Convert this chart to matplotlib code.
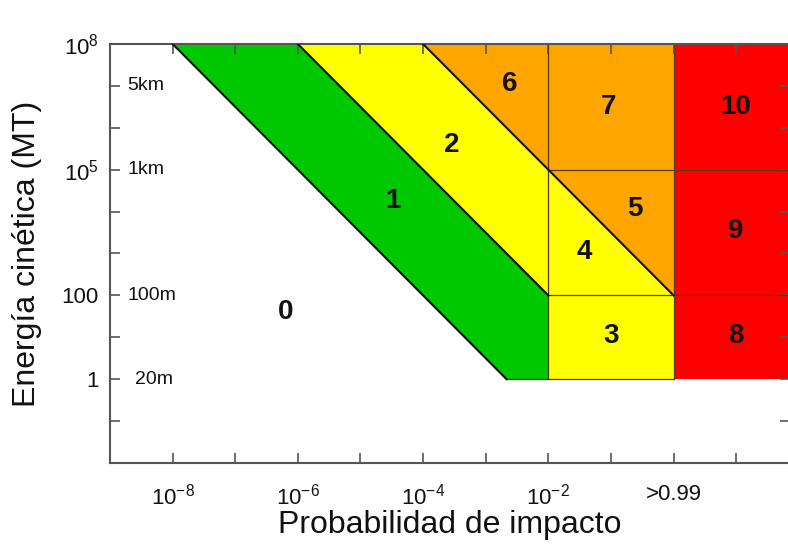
import numpy as np
import matplotlib
matplotlib.use('Agg')
import matplotlib.pyplot as plt

plt.rcParams['font.family'] = ['Liberation Sans', 'DejaVu Sans']
plt.rcParams['mathtext.fontset'] = 'custom'
plt.rcParams['mathtext.rm'] = 'Liberation Sans'
plt.rcParams['mathtext.it'] = 'Liberation Sans'

# axis range (log10 units)
x_lim = (-9.0, 1.86)
y_lim = (-2.0, 8.0)

# tick marks and labels
x_ticks = [-8, -6, -4, -2, 0]
x_labels = [r'$10^{-8}$', r'$10^{-6}$', r'$10^{-4}$', r'$10^{-2}$', '>0.99']
y_ticks = [8, 5, 2, 0]
y_labels = [r'$10^{8}$', r'$10^{5}$', '100', '1']
size_y = [7, 5, 2, 0]
size_labels = ['5km', '1km', '100m', '20m']

# region polygons (log10 probability, log10 energy)
green_x = [-8, -6, -2, -2, -2.667]
green_y = [8, 8, 2, 0, 0]
yel2_x = [-6, -4, -2, -2]
yel2_y = [8, 8, 5, 2]
org6_x = [-4, -2, -2]
org6_y = [8, 8, 5]
org7_x = [-2, 0, 0, -2]
org7_y = [8, 8, 5, 5]
org5_x = [-2, 0, 0]
org5_y = [5, 5, 2]
yel4_x = [-2, 0, -2]
yel4_y = [5, 2, 2]
yel3_x = [-2, 0, 0, -2]
yel3_y = [2, 2, 0, 0]
red_x = [0, 1.86, 1.86, 0]
red_y = [8, 8, 0, 0]

# scale numbers
num_labels = ['0', '1', '2', '3', '4', '5', '6', '7', '8', '9', '10']
num_x = [-6.2, -4.48, -3.55, -1.0, -1.42, -0.62, -2.61, -1.04, 1.0, 1.0, 1.0]
num_y = [1.6, 4.25, 5.6, 1.03, 3.03, 4.06, 7.04, 6.49, 1.03, 3.53, 6.49]

GREEN = '#00c800'
YELLOW = '#ffff00'
ORANGE = '#ffa500'
RED = '#ff0000'

fig = plt.figure(figsize=(7.88, 5.48), dpi=100)
ax = fig.add_axes([110 / 788, 1 - 463 / 548, 680 / 788, 419 / 548])
ax.set_xscale('log')
ax.set_yscale('log')

def pw(v):
    return 10.0 ** np.array(v, dtype=float)

for xs, ys, c in [(green_x, green_y, GREEN), (yel2_x, yel2_y, YELLOW),
                  (org6_x, org6_y, ORANGE), (org7_x, org7_y, ORANGE),
                  (org5_x, org5_y, ORANGE), (yel4_x, yel4_y, YELLOW),
                  (yel3_x, yel3_y, YELLOW), (red_x, red_y, RED)]:
    ax.fill(pw(xs), pw(ys), color=c, lw=0, zorder=1)

# thin cell borders
cell = dict(color='#5a3a00', lw=0.9, zorder=2)
ax.plot(pw([-2, -2]), pw([0, 8]), **cell)
ax.plot(pw([0, 0]), pw([0, 8]), **cell)
ax.plot(pw([-2, 1.86]), pw([5, 5]), **cell)
ax.plot(pw([-2, 1.86]), pw([2, 2]), **cell)
ax.plot(pw([-2.667, 0]), pw([0, 0]), **cell)

# diagonal boundaries
diag = dict(color='#101010', lw=1.5, zorder=3)
ax.plot(pw([-8, -2.667]), pw([8, 0]), **diag)
ax.plot(pw([-6, -2]), pw([8, 2]), **diag)
ax.plot(pw([-4, 0]), pw([8, 2]), **diag)

for t, x, y in zip(num_labels, num_x, num_y):
    ax.text(10 ** x, 10 ** y, t, ha='center', va='center', fontsize=20,
            fontweight='bold', color='#111111', zorder=4)

for t, y in zip(size_labels, size_y):
    x = -8.72 if t != '20m' else -8.6
    ax.text(10 ** x, 10 ** y, t, ha='left', va='center', fontsize=14,
            color='#111111', zorder=4)

ax.set_xlim(10 ** x_lim[0], 10 ** x_lim[1])
ax.set_ylim(10 ** y_lim[0], 10 ** y_lim[1])

ax.xaxis.set_major_locator(matplotlib.ticker.FixedLocator(pw(x_ticks)))
ax.xaxis.set_major_formatter(matplotlib.ticker.FixedFormatter(x_labels))
ax.xaxis.set_minor_locator(matplotlib.ticker.FixedLocator(pw(range(-8, 2))))
ax.xaxis.set_minor_formatter(matplotlib.ticker.NullFormatter())
ax.yaxis.set_major_locator(matplotlib.ticker.FixedLocator(pw(y_ticks)))
ax.yaxis.set_major_formatter(matplotlib.ticker.FixedFormatter(y_labels))
ax.yaxis.set_minor_locator(matplotlib.ticker.FixedLocator(pw(range(-1, 8))))
ax.yaxis.set_minor_formatter(matplotlib.ticker.NullFormatter())

ax.tick_params(which='both', direction='in', top=True, right=True,
               length=7, width=1.2, color='#555555', labelsize=16,
               labelcolor='#111111')
ax.tick_params(axis='x', which='major', pad=15)
ax.tick_params(axis='y', which='major', pad=8)

for s in ax.spines.values():
    s.set_color('#555555')
    s.set_linewidth(1.5)

ax.set_xlabel('Probabilidad de impacto', fontsize=23, color='#111111',
              labelpad=0)
ax.set_ylabel('Energía cinética (MT)', fontsize=23, color='#111111',
              labelpad=14)

fig.savefig('out.png', dpi=100)
